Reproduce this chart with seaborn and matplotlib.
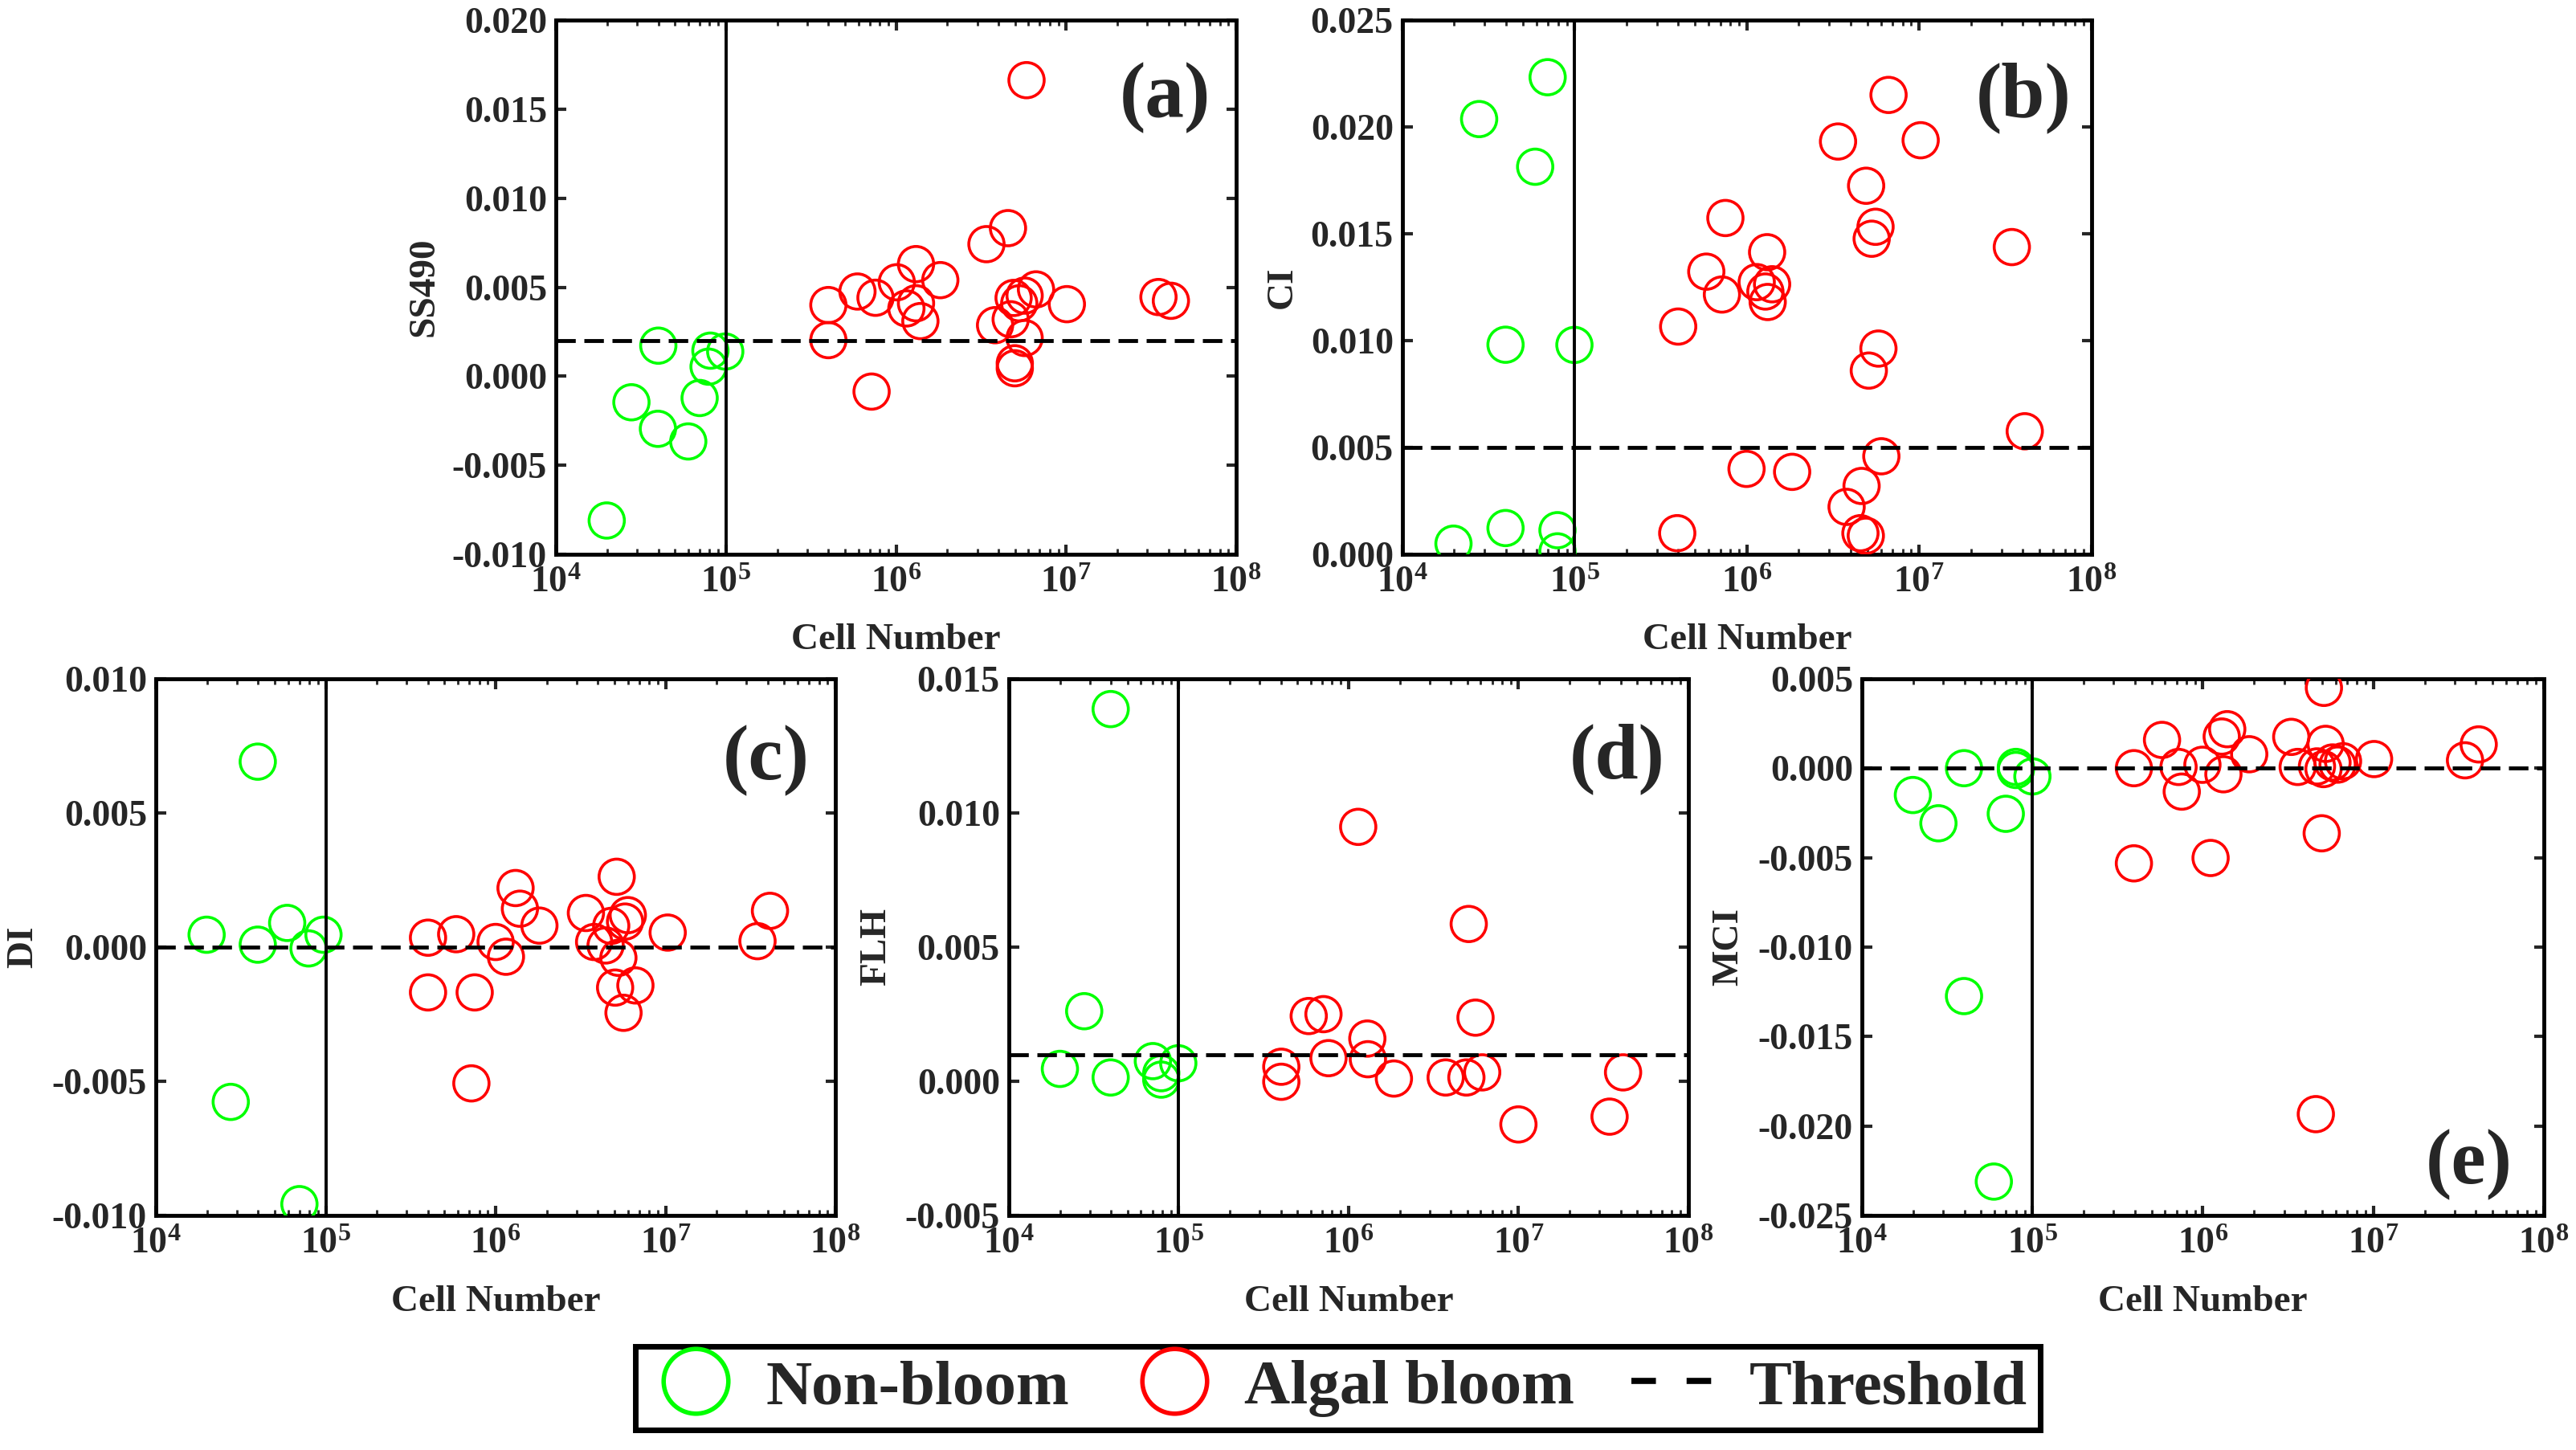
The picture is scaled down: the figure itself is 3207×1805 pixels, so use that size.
import numpy as np
import pandas as pd
import matplotlib
matplotlib.use("Agg")
import matplotlib.pyplot as plt
import seaborn as sns
from matplotlib.lines import Line2D
from matplotlib.ticker import LogLocator, MultipleLocator, FuncFormatter, NullFormatter

# ---- data (cell number, index value) ----
# (a) SS490
ss490_non_x = [1.99e4, 2.78e4, 3.98e4, 4.0e4, 6.0e4, 7.0e4, 7.9e4, 8.1e4, 9.9e4]
ss490_non_y = [-0.0081, -0.00146, -0.00295, 0.00172, -0.00366, -0.00122, 0.00054, 0.00144, 0.00139]
ss490_bloom_x = [5.85e6, 4.55e6, 3.4e6, 4.0e5, 4.0e5, 5.93e5, 7.57e5, 7.18e5, 1.01e6, 1.31e6,
                 1.15e6, 1.31e6, 1.39e6, 1.82e6, 3.82e6, 4.72e6, 4.91e6, 5.7e6, 6.65e6, 5.7e6,
                 4.99e6, 4.99e6, 1.01e7, 3.49e7, 4.13e7, 5.3e6]
ss490_bloom_y = [0.01663, 0.00832, 0.00742, 0.0040, 0.00203, 0.00476, 0.00441, -0.00086, 0.00528, 0.0063,
                 0.00381, 0.0041, 0.0031, 0.0054, 0.00287, 0.0032, 0.0044, 0.00453, 0.00488, 0.00215,
                 0.00073, 0.00045, 0.00405, 0.00445, 0.00424, 0.0041]

# (b) CI
ci_non_x = [1.98e4, 2.79e4, 3.97e4, 3.97e4, 5.9e4, 6.97e4, 7.95e4, 7.95e4, 9.97e4]
ci_non_y = [0.0005, 0.02037, 0.00123, 0.00981, 0.01814, 0.02233, 0.00113, 0.00014, 0.0098]
ci_bloom_x = [6.64e6, 3.38e6, 1.02e7, 4.92e6, 5.58e6, 5.3e6, 7.5e5, 1.31e6, 5.81e5, 7.16e5,
              1.14e6, 1.40e6, 1.32e6, 1.28e6, 3.99e5, 3.45e7, 5.8e6, 5.1e6, 4.1e7, 6.03e6,
              9.95e5, 1.83e6, 4.63e6, 3.79e6, 3.94e5, 4.56e6, 4.9e6]
ci_bloom_y = [0.0215, 0.01932, 0.01938, 0.01725, 0.01533, 0.01477, 0.01574, 0.01414, 0.01323, 0.01216,
              0.01274, 0.01264, 0.01181, 0.0123, 0.01066, 0.01438, 0.00963, 0.0086, 0.00576, 0.00459,
              0.0040, 0.00386, 0.0032, 0.00222, 0.00099, 0.00099, 0.00087]

# (c) DI
di_non_x = [1.99e4, 2.76e4, 3.98e4, 3.98e4, 5.93e4, 7.0e4, 7.92e4, 9.7e4]
di_non_y = [0.00046, -0.00577, 0.00691, 0.00009, 0.0009, -0.00958, -0.00005, 0.00046]
di_bloom_x = [5.16e6, 1.31e6, 1.39e6, 1.81e6, 3.4e6, 6.0e6, 5.78e6, 4.79e6, 3.8e6, 1.03e7,
              3.48e7, 4.12e7, 4.0e5, 5.86e5, 1.0e6, 1.15e6, 4.0e5, 7.53e5, 7.2e5, 5.05e6,
              6.65e6, 5.66e6, 5.28e6, 4.44e6]
di_bloom_y = [0.00262, 0.0022, 0.00143, 0.0008, 0.00127, 0.00119, 0.00095, 0.00079, 0.00019, 0.00054,
              0.00022, 0.00135, 0.00035, 0.00048, 0.00019, -0.00036, -0.00169, -0.00169, -0.00508, -0.00151,
              -0.00143, -0.00245, -0.0004, 0.00006]

# (d) FLH
flh_non_x = [2.0e4, 2.78e4, 3.98e4, 3.98e4, 7.05e4, 7.9e4, 7.9e4, 9.95e4]
flh_non_y = [0.00046, 0.00261, 0.01387, 0.00014, 0.00075, 0.0003, 0.00006, 0.00067]
flh_bloom_x = [1.14e6, 5.1e6, 5.59e6, 5.83e5, 7.12e5, 1.29e6, 7.62e5, 1.3e6, 4.02e5, 4.02e5,
               1.85e6, 3.73e6, 4.94e6, 6.12e6, 4.13e7, 1.0e7, 3.44e7]
flh_bloom_y = [0.00948, 0.00586, 0.00237, 0.00243, 0.0025, 0.00159, 0.00086, 0.00082, 0.00054, -0.00002,
               0.0001, 0.00014, 0.00014, 0.00033, 0.00033, -0.00161, -0.00132]

# (e) MCI
mci_non_x = [1.99e4, 2.81e4, 3.97e4, 3.97e4, 5.94e4, 6.98e4, 8.0e4, 8.0e4, 1.0e5]
mci_non_y = [-0.0015, -0.00308, 0.0, -0.01274, -0.02311, -0.00255, -0.0001, 0.00007, -0.00046]
mci_bloom_x = [5.13e6, 1.39e6, 1.29e6, 5.76e5, 3.3e6, 5.25e6, 1.87e6, 4.15e7, 3.45e7, 1.01e7,
               3.94e5, 7.2e5, 9.94e5, 1.32e6, 7.52e5, 3.6e6, 4.67e6, 5.1e6, 5.76e6, 6.64e6,
               6.17e6, 3.94e5, 1.11e6, 4.98e6, 4.6e6]
mci_bloom_y = [0.00449, 0.00218, 0.00177, 0.00158, 0.00175, 0.00136, 0.00078, 0.00133, 0.00044, 0.00051,
               0.0, 0.00007, 0.00019, -0.00034, -0.00131, 0.00007, 0.0001, -0.00005, 0.00032, 0.00039,
               0.0002, -0.00532, -0.00502, -0.00364, -0.01934]

index_names = ["SS490", "CI", "DI", "FLH", "MCI"]
panel_tags = ["(a)", "(b)", "(c)", "(d)", "(e)"]
thresholds = [0.002, 0.005, 0.0, 0.001, 0.0]
cell_cutoff = 1e5

GREEN = "#00ff00"
RED = "#ff0000"

sns.set_style("ticks")
plt.rcParams["font.family"] = ["Liberation Serif", "DejaVu Serif"]
plt.rcParams["font.weight"] = "bold"
plt.rcParams["axes.labelweight"] = "bold"
plt.rcParams["mathtext.fontset"] = "custom"
plt.rcParams["mathtext.rm"] = "Liberation Serif:bold"
plt.rcParams["mathtext.it"] = "Liberation Serif:bold"
plt.rcParams["mathtext.bf"] = "Liberation Serif:bold"
plt.rcParams["axes.unicode_minus"] = False

fig = plt.figure(figsize=(32.07, 18.05), dpi=100)

positions = [
    [0.2158, 0.6177, 0.2641, 0.3684],
    [0.5444, 0.6177, 0.2675, 0.3684],
    [0.0605, 0.1618, 0.2638, 0.3701],
    [0.3916, 0.1618, 0.2638, 0.3701],
    [0.7228, 0.1618, 0.2647, 0.3701],
]
ylims = [(-0.010, 0.020), (0.0, 0.025), (-0.010, 0.010), (-0.005, 0.015), (-0.025, 0.005)]
non_sets = [(ss490_non_x, ss490_non_y), (ci_non_x, ci_non_y), (di_non_x, di_non_y),
            (flh_non_x, flh_non_y), (mci_non_x, mci_non_y)]
bloom_sets = [(ss490_bloom_x, ss490_bloom_y), (ci_bloom_x, ci_bloom_y), (di_bloom_x, di_bloom_y),
              (flh_bloom_x, flh_bloom_y), (mci_bloom_x, mci_bloom_y)]
ylabel_x = [-0.168, -0.149, -0.170, -0.170, -0.170]
tag_xy = [(0.895, 0.855), (0.901, 0.855), (0.898, 0.847), (0.895, 0.85), (0.89, 0.094)]


def fmt_y(v, pos):
    if abs(v) < 1e-9:
        v = 0.0
    return "%.3f" % v


for i in range(5):
    ax = fig.add_axes(positions[i])
    nx, ny = non_sets[i]
    bx, by = bloom_sets[i]
    sns.scatterplot(x=nx, y=ny, ax=ax, marker="o", s=1000, facecolor="none",
                    edgecolor=GREEN, linewidth=2.6, zorder=3)
    sns.scatterplot(x=bx, y=by, ax=ax, marker="o", s=1000, facecolor="none",
                    edgecolor=RED, linewidth=2.6, zorder=3)
    ax.axvline(cell_cutoff, color="black", lw=2.8, zorder=4)
    ax.axhline(thresholds[i], color="black", lw=3.5, ls=(0, (5, 2.2)), zorder=4)

    ax.set_xscale("log")
    ax.set_xlim(1e4, 1e8)
    ax.set_ylim(*ylims[i])
    ax.xaxis.set_major_locator(LogLocator(base=10, numticks=10))
    ax.xaxis.set_minor_locator(LogLocator(base=10, subs=np.arange(2, 10), numticks=20))
    ax.xaxis.set_minor_formatter(NullFormatter())
    ax.yaxis.set_major_locator(MultipleLocator(0.005))
    ax.yaxis.set_major_formatter(FuncFormatter(fmt_y))

    ax.tick_params(which="major", direction="in", length=9, width=3, labelsize=33,
                   top=True, right=True)
    ax.tick_params(axis="x", which="major", pad=11)
    ax.tick_params(axis="y", which="major", pad=8)
    ax.tick_params(which="minor", direction="in", length=5, width=2, top=True)
    for sp in ax.spines.values():
        sp.set_linewidth(3.5)
        sp.set_color("black")

    ax.set_xlabel("Cell Number", fontsize=34, fontweight="bold")
    ax.set_ylabel(index_names[i], fontsize=34, fontweight="bold")
    ax.xaxis.set_label_coords(0.5, -0.13)
    ax.yaxis.set_label_coords(ylabel_x[i], 0.5)

    ax.text(tag_xy[i][0], tag_xy[i][1], panel_tags[i], transform=ax.transAxes,
            fontsize=70, fontweight="bold", ha="center", va="center")

handles = [
    Line2D([], [], ls="none", marker="o", markersize=58, markerfacecolor="none",
           markeredgecolor=GREEN, markeredgewidth=4),
    Line2D([], [], ls="none", marker="o", markersize=58, markerfacecolor="none",
           markeredgecolor=RED, markeredgewidth=4),
    Line2D([], [], color="black", lw=5.5, ls=(0, (4, 5))),
]
leg = fig.legend(handles, ["Non-bloom", "Algal bloom", "Threshold"], loc="center",
                 bbox_to_anchor=(0.5193, 0.0427), ncol=3, frameon=True, fancybox=False,
                 edgecolor="black", framealpha=1, fontsize=57, handlelength=1.5,
                 handletextpad=0.35, columnspacing=0.9, borderpad=0.2)
leg.get_frame().set_linewidth(5)

fig.savefig("out.png", dpi=100)
